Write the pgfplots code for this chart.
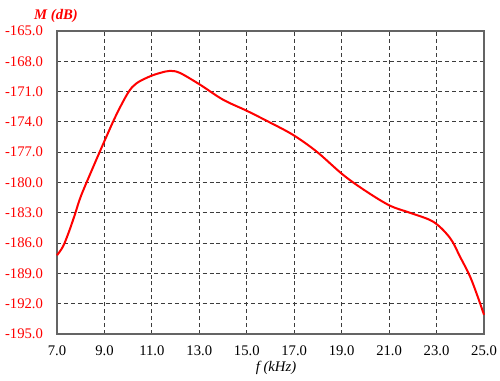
\documentclass[border=0pt]{standalone}
\usepackage{pgfplots}
\pgfplotsset{compat=1.18}
\usepackage{fontspec}
\setmainfont{Liberation Serif}
\definecolor{curvered}{RGB}{255,0,0}
\definecolor{gridgray}{RGB}{60,60,60}
\definecolor{axgray}{RGB}{100,100,100}
\begin{document}
\begin{tikzpicture}[x=1pt,y=1pt]
\useasboundingbox (-42.75pt,-35.25pt) rectangle (332.25pt,250.5pt);
\begin{axis}[
  at={(0,0)}, anchor=south west,
  scale only axis,
  width=320.25pt, height=227.25pt,
  xmin=7, xmax=25, ymin=-195, ymax=-165,
  xtick={7,9,...,25},
  ytick={-195,-192,...,-165},
  /pgf/number format/assume math mode=true,
  /pgf/number format/.cd, fixed, fixed zerofill, precision=1, /tikz/.cd,
  major tick length=0pt,
  grid=major,
  major grid style={gridgray, dashed, line width=0.75pt, dash pattern=on 3pt off 2.2pt},
  axis line style={axgray, line width=1.3pt},
  tick label style={font=\fontsize{11}{13}\selectfont},
  yticklabel style={text=red, xshift=-7pt},
  xticklabel style={text=black, yshift=-5pt},
  clip=false,
]
\addplot[curvered, line width=1.5pt, smooth, tension=0.55] coordinates {
(7.0,-187.2) (7.25,-186.35) (7.5,-184.9) (7.75,-183.2) (8.0,-181.4) (8.5,-178.6)
(9.0,-175.9) (9.5,-173.3) (10.0,-171.1) (10.35,-170.18)
(10.91,-169.5) (11.35,-169.15) (11.76,-168.95) (12.18,-169.15)
(13.02,-170.3) (14.0,-171.8) (15.0,-172.9) (15.97,-174.05) (16.96,-175.3)
(17.95,-176.95) (19.07,-179.26) (20.05,-180.9) (21.04,-182.3) (21.88,-183.0)
(22.87,-183.9) (23.57,-185.5) (23.99,-187.35) (24.41,-189.3) (24.75,-191.4) (25.0,-193.1)
};
\end{axis}
\node[text=red, font=\fontsize{11}{13}\selectfont\bfseries\itshape] at (-0.75pt,238.5pt) {M (dB)};
\node[text=black, font=\fontsize{11}{13}\selectfont\itshape] at (164.25pt,-25.5pt) {f (kHz)};
\end{tikzpicture}
\end{document}
